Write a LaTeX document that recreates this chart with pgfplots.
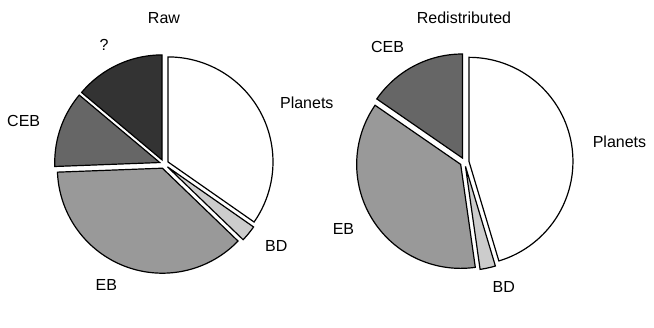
\documentclass[border=0pt]{standalone}
\usepackage{fontspec}
\setmainfont{Liberation Sans}
\usepackage{pgfplots}
\usepackage{pgfplotstable}
\pgfplotsset{compat=1.18}

\definecolor{cPlanets}{gray}{1.0}
\definecolor{cBD}{gray}{0.8}
\definecolor{cEB}{gray}{0.6}
\definecolor{cCEB}{gray}{0.4}
\definecolor{cQ}{gray}{0.2}

% shares in percent, clockwise from 12 o'clock
\pgfplotstableread{
label   share  color
Planets 34.7   cPlanets
BD      2.5    cBD
EB      37.2   cEB
CEB     11.7   cCEB
?       13.9   cQ
}\raw

\pgfplotstableread{
label   share  color
Planets 45.4   cPlanets
BD      2.4    cBD
EB      36.9   cEB
CEB     15.4   cCEB
}\redist

\def\explode{4.5}

% #1 table, #2 cx, #3 cy, #4 radius (axis units = pixels)
\newcommand\drawpie[4]{%
  \pgfplotstablegetrowsof{#1}%
  \pgfmathtruncatemacro\nrows{\pgfplotsretval-1}%
  \def\total{0}%
  \pgfplotsforeachungrouped \i in {0,...,\nrows}{%
    \pgfplotstablegetelem{\i}{share}\of{#1}%
    \pgfmathsetmacro\total{\total+\pgfplotsretval}%
  }%
  \def\astart{90}%
  \pgfplotsforeachungrouped \i in {0,...,\nrows}{%
    \pgfplotstablegetelem{\i}{share}\of{#1}\let\share\pgfplotsretval
    \pgfplotstablegetelem{\i}{color}\of{#1}\let\scol\pgfplotsretval
    \pgfplotstablegetelem{\i}{label}\of{#1}\let\slab\pgfplotsretval
    \pgfmathsetmacro\aend{\astart-360*\share/\total}%
    \pgfmathsetmacro\amid{(\astart+\aend)/2}%
    \pgfmathsetmacro\ox{#2+\explode*cos(\amid)}%
    \pgfmathsetmacro\oy{#3+\explode*sin(\amid)}%
    \edef\doit{\noexpand\addplot[draw=black, line width=0.6pt, fill=\scol,
        domain=\aend:\astart, samples=80]
      ({\ox+#4*cos(x)},{\oy+#4*sin(x)}) -- (axis cs:\ox,\oy) -- cycle;}%
    \doit
    \pgfmathsetmacro\lx{#2+(1.2*#4+\explode)*cos(\amid)}%
    \pgfmathsetmacro\ly{#3+(1.2*#4+\explode)*sin(\amid)-4.5}%
    \pgfmathsetmacro\cc{cos(\amid)}%
    \ifdim\cc pt>0pt \def\anc{base west}\else\def\anc{base east}\fi
    \edef\doit{\noexpand\node[anchor=\anc, inner sep=0pt]
      at (axis cs:\lx,\ly) {\slab};}%
    \doit
    \let\astart\aend
  }%
}

\begin{document}
\begin{tikzpicture}[font=\fontsize{8}{9.6}\selectfont]
\begin{axis}[
  width=327pt, height=163.5pt, scale only axis,
  xmin=0, xmax=654, ymin=0, ymax=327,
  hide axis, clip=false
]
\drawpie{\raw}{164}{163}{105}
\drawpie{\redist}{464.5}{165}{104}
\node[anchor=base, inner sep=0pt] at (axis cs:164,303) {Raw};
\node[anchor=base, inner sep=0pt] at (axis cs:464,303) {Redistributed};
\end{axis}
\path (current axis.south west) rectangle (current axis.north east);
\end{tikzpicture}
\end{document}
